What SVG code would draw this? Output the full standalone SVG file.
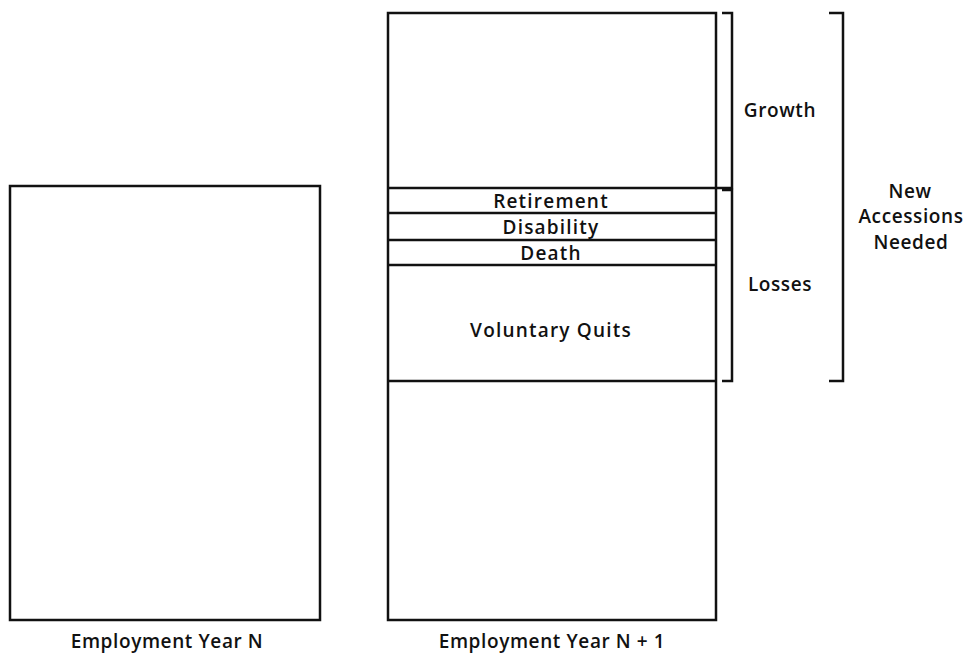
<svg xmlns="http://www.w3.org/2000/svg" width="967" height="656" viewBox="0 0 967 656">
  <style>
    .box { fill: none; stroke: #111; stroke-width: 2.5; }
    .div { stroke: #111; stroke-width: 2.5; }
    .br { fill: none; stroke: #111; stroke-width: 2.5; }
    text { font-family: "Open Sans", "Liberation Sans", sans-serif; font-size: 19px; font-weight: 600; fill: #111; text-anchor: middle; }
    .seg { letter-spacing: 1.2px; }
    .cap { letter-spacing: 0.6px; }
  </style>
  <rect width="967" height="656" fill="#fff"/>

  <g id="year-n">
    <rect class="box" x="10" y="186" width="310" height="434"/>
    <text class="cap" x="167" y="648">Employment Year N</text>
  </g>

  <g id="year-n1">
    <rect class="box" x="388" y="13" width="328" height="607"/>
    <line class="div" x1="388" y1="188" x2="716" y2="188"/>
    <line class="div" x1="388" y1="213" x2="716" y2="213"/>
    <line class="div" x1="388" y1="240" x2="716" y2="240"/>
    <line class="div" x1="388" y1="265" x2="716" y2="265"/>
    <line class="div" x1="388" y1="381" x2="716" y2="381"/>
    <text class="seg" x="551" y="208">Retirement</text>
    <text class="seg" x="551" y="234">Disability</text>
    <text class="seg" x="551" y="260">Death</text>
    <text class="seg" x="551" y="337">Voluntary Quits</text>
    <text class="cap" x="552" y="648">Employment Year N + 1</text>
  </g>

  <g id="brackets">
    <path class="br" d="M722,13 H732 V188 H716"/>
    <path class="br" d="M722,190 H732 V381 H722"/>
    <path class="br" d="M829,13 H843 V381 H829"/>
    <text class="cap" x="780" y="117">Growth</text>
    <text class="cap" x="780" y="291">Losses</text>
    <text class="cap" x="910" y="198">New</text>
    <text class="cap" x="911" y="223">Accessions</text>
    <text class="cap" x="911" y="249">Needed</text>
  </g>
</svg>
